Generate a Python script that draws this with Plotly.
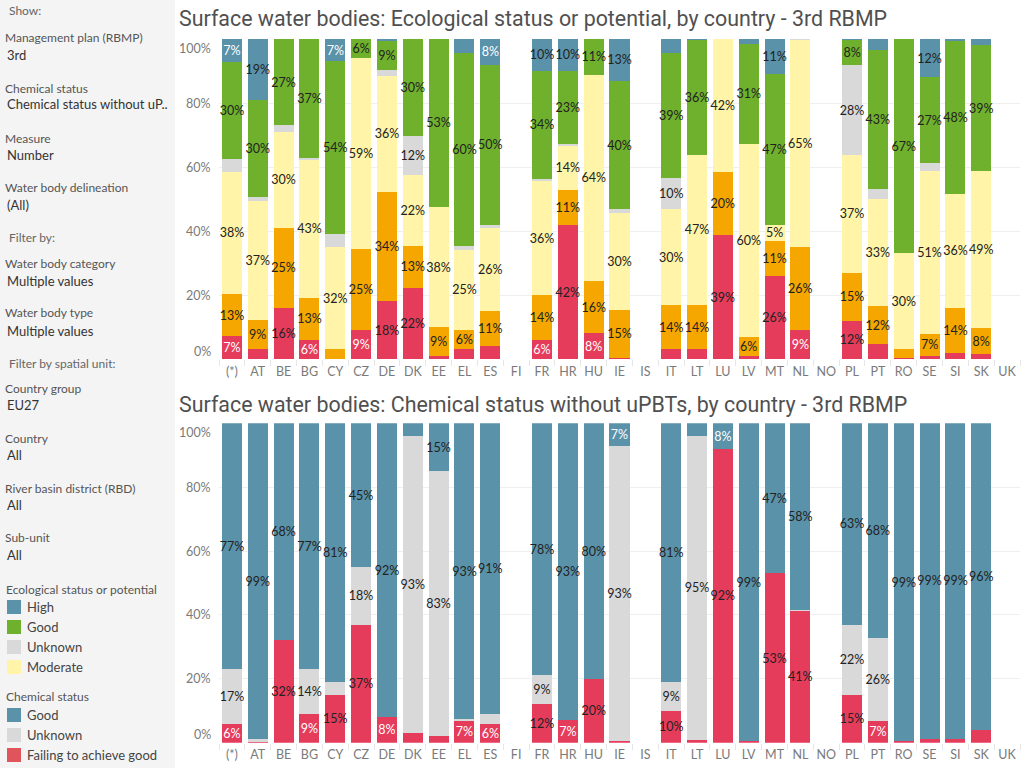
import plotly.graph_objects as go

countries = ["(*)", "AT", "BE", "BG", "CY", "CZ", "DE", "DK", "EE", "EL", "ES", "FI", "FR", "HR", "HU",
             "IE", "IS", "IT", "LT", "LU", "LV", "MT", "NL", "NO", "PL", "PT", "RO", "SE", "SI", "SK", "UK"]

# Ecological status (percent of water bodies), bottom to top
eco_bad = [7, 3, 16, 6, 0, 9, 18, 22, 1, 3, 4, 0, 6, 42, 8, 0.4, 0, 3, 3, 39, 1, 26, 9, 0, 12, 4.5, 0.3, 1, 2, 1.5, 0]
eco_poor = [13, 9, 25, 13, 3, 25, 34, 13, 9, 6, 11, 0, 14, 11, 16, 15, 0, 14, 14, 20, 6, 11, 26, 0, 15, 12, 2.7, 7, 14, 8, 0]
eco_moderate = [38, 37, 30, 43, 32, 59, 36, 22, 38, 25, 26, 0, 36, 14, 64, 30, 0, 30, 47, 42, 60, 5, 65, 0, 37, 33, 30, 51, 36, 49, 0]
eco_unknown = [4, 1, 2, 0.5, 4, 0, 2, 12, 0, 1, 1, 0, 0.5, 0.3, 0, 1.2, 0, 10, 0, 0, 0, 0, 0.3, 0, 28, 3, 0, 2.5, 0, 0, 0]
eco_good = [30, 30, 27, 37, 54, 6, 9, 30, 53, 60, 50, 0, 34, 23, 11, 40, 0, 39, 36, 0, 31, 47, 0, 0, 8, 43, 67, 27, 48, 39, 0]
eco_high = [7, 19, 0, 0, 7, 0, 0.5, 0, 0, 4.5, 8, 0, 10, 10, 0, 13, 0, 4.5, 0.3, 0, 1.6, 11, 0, 0, 0.3, 3.4, 0, 12, 0.6, 2, 0]

# Chemical status without uPBTs (percent), bottom to top
chem_failing = [6, 0.3, 32, 9, 15, 37, 8, 3, 2, 7, 6, 0, 12, 7, 20, 0.6, 0, 10, 1, 92, 0.6, 53, 41, 0, 15, 7, 0.6, 1.3, 1.3, 4, 0]
chem_unknown = [17, 0.8, 0, 14, 4, 18, 0, 93, 83, 0.5, 3, 0, 9, 0, 0, 93, 0, 9, 95, 0, 0, 0, 0.4, 0, 22, 26, 0, 0, 0, 0, 0]
chem_good = [77, 99, 68, 77, 81, 45, 92, 4, 15, 93, 91, 0, 78, 93, 80, 7, 0, 81, 4, 8, 99, 47, 58, 0, 63, 68, 99, 99, 99, 96, 0]

y_ticks = [0, 20, 40, 60, 80, 100]
y_ticktext = ["0%", "20%", "40%", "60%", "80%", "100%"]

eco_series = [("Bad", eco_bad, "#e63c5c", True), ("Poor", eco_poor, "#f5a700", False),
              ("Moderate", eco_moderate, "#fff4a8", False), ("Unknown", eco_unknown, "#d9d9d9", False),
              ("Good", eco_good, "#6fb12c", False), ("High", eco_high, "#5a92aa", True)]
chem_series = [("Failing to achieve good", chem_failing, "#e63c5c", True),
               ("Unknown", chem_unknown, "#d9d9d9", False),
               ("Good", chem_good, "#5a92aa", True)]

TITLE_FONT = "Roboto"
FONT = "Lato"

fig = go.Figure()


def label_lists(vals, dark):
    texts, colors = [], []
    for v in vals:
        if v < 4.8:
            texts.append("")
        else:
            texts.append(f"{round(v)}%")
        if dark and round(v) < 10:
            colors.append("white")
        else:
            colors.append("#222222")
    return texts, colors


def add_series(series, xa, ya):
    for name, vals, color, dark in series:
        texts, colors = label_lists(vals, dark)
        fig.add_trace(go.Bar(
            x=countries, y=vals, name=name, marker=dict(color=color, line=dict(width=0)),
            text=texts, textposition="inside", insidetextanchor="middle", textangle=0,
            textfont=dict(color=colors, size=12.5, family=FONT),
            xaxis=xa, yaxis=ya, showlegend=False, hoverinfo="skip",
        ))


add_series(eco_series, "x", "y")
add_series(chem_series, "x2", "y2")

xdom = [219 / 1024, 1020 / 1024]
axis_common = dict(type="category", categoryorder="array", categoryarray=countries,
                   tickfont=dict(size=12.5, color="#7a7a7a", family=FONT), tickangle=0,
                   showgrid=False, ticks="outside", tickson="boundaries", ticklen=6,
                   tickcolor="#e6e6e6", ticklabelstandoff=3, showline=False, zeroline=False,
                   fixedrange=True, automargin=False)
yaxis_common = dict(range=[0, 100], tickmode="array", tickvals=y_ticks, showticklabels=False,
                    showgrid=True, gridcolor="#efefef", gridwidth=1, zeroline=False,
                    showline=False, ticks="", fixedrange=True, automargin=False)

fig.update_layout(
    width=1024, height=768, autosize=False, margin=dict(l=0, r=0, t=0, b=0, pad=0, autoexpand=False),
    paper_bgcolor="white", plot_bgcolor="white",
    barmode="stack", barnorm="percent", bargap=0.225,
    uniformtext=dict(minsize=12.5, mode="show"),
    font=dict(family=FONT),
    xaxis=dict(domain=xdom, anchor="y", **axis_common),
    yaxis=dict(domain=[1 - 359 / 768, 1 - 39 / 768], anchor="x", **yaxis_common),
    xaxis2=dict(domain=xdom, anchor="y2", **axis_common),
    yaxis2=dict(domain=[1 - 742.7 / 768, 1 - 423.3 / 768], anchor="x2", **yaxis_common),
)

shapes = [dict(type="rect", xref="paper", yref="paper", x0=0, x1=175 / 1024, y0=0, y1=1,
               fillcolor="#f4f4f4", line=dict(width=0), layer="below")]

annotations = []

# y tick labels (end labels nudged inward like the original)
for yref in ("y", "y2"):
    for val, lab in zip(y_ticks, y_ticktext):
        shift = -9 if val == 100 else (8 if val == 0 else 0)
        annotations.append(dict(text=lab, xref="paper", yref=yref, x=213 / 1024, y=val,
                                xanchor="right", yanchor="middle", yshift=shift, showarrow=False,
                                font=dict(size=12.5, color="#7a7a7a", family=FONT)))


def txt(text, x, y, size=12, color="#555555", family=FONT):
    annotations.append(dict(text=text, xref="paper", yref="paper", x=x / 1024, y=1 - y / 768,
                            xanchor="left", yanchor="middle", showarrow=False,
                            font=dict(size=size, color=color, family=family)))


# Titles
txt("Surface water bodies: Ecological status or potential, by country - 3rd RBMP", 177, 18, 21.4, "#505050", TITLE_FONT)
txt("Surface water bodies: Chemical status without uPBTs, by country - 3rd RBMP", 177, 404, 21.4, "#505050", TITLE_FONT)

# Sidebar filters
side = [
    ("Show:", 7, 11, 12, "#666666"),
    ("Management plan (RBMP)", 3, 38, 12, "#555555"),
    ("3rd", 5, 55, 13, "#333333"),
    ("Chemical status", 3, 88, 12, "#555555"),
    ("Chemical status without uP..", 5, 104, 13, "#333333"),
    ("Measure", 3, 138, 12, "#555555"),
    ("Number", 5, 155, 13, "#333333"),
    ("Water body delineation", 3, 188, 12, "#555555"),
    ("(All)", 5, 205, 13, "#333333"),
    ("Filter by:", 7, 238, 12, "#666666"),
    ("Water body category", 3, 263, 12, "#555555"),
    ("Multiple values", 5, 281, 13, "#333333"),
    ("Water body type", 3, 313, 12, "#555555"),
    ("Multiple values", 5, 331, 13, "#333333"),
    ("Filter by spatial unit:", 7, 363, 12, "#666666"),
    ("Country group", 3, 388, 12, "#555555"),
    ("EU27", 5, 405, 13, "#333333"),
    ("Country", 3, 438, 12, "#555555"),
    ("All", 5, 455, 13, "#333333"),
    ("River basin district (RBD)", 3, 488, 12, "#555555"),
    ("All", 5, 505, 13, "#333333"),
    ("Sub-unit", 3, 537, 12, "#555555"),
    ("All", 5, 555, 13, "#333333"),
    ("Ecological status or potential", 4, 589, 12, "#555555"),
    ("Chemical status", 4, 696, 12, "#555555"),
]
for t, x, y, s, c in side:
    txt(t, x, y, s, c)

legend_items = [("High", "#5a92aa", 607), ("Good", "#6fb12c", 627), ("Unknown", "#d9d9d9", 647),
                ("Moderate", "#fff4a8", 667), ("Good", "#5a92aa", 715), ("Unknown", "#d9d9d9", 735),
                ("Failing to achieve good", "#e0555b", 755)]
for name, color, yc in legend_items:
    shapes.append(dict(type="rect", xref="paper", yref="paper", x0=7 / 1024, x1=21 / 1024,
                       y0=1 - (yc + 7) / 768, y1=1 - (yc - 7) / 768, fillcolor=color, line=dict(width=0)))
    txt(name, 25, yc, 13, "#444444")

fig.update_layout(shapes=shapes, annotations=annotations)

fig.write_html("out.html")
